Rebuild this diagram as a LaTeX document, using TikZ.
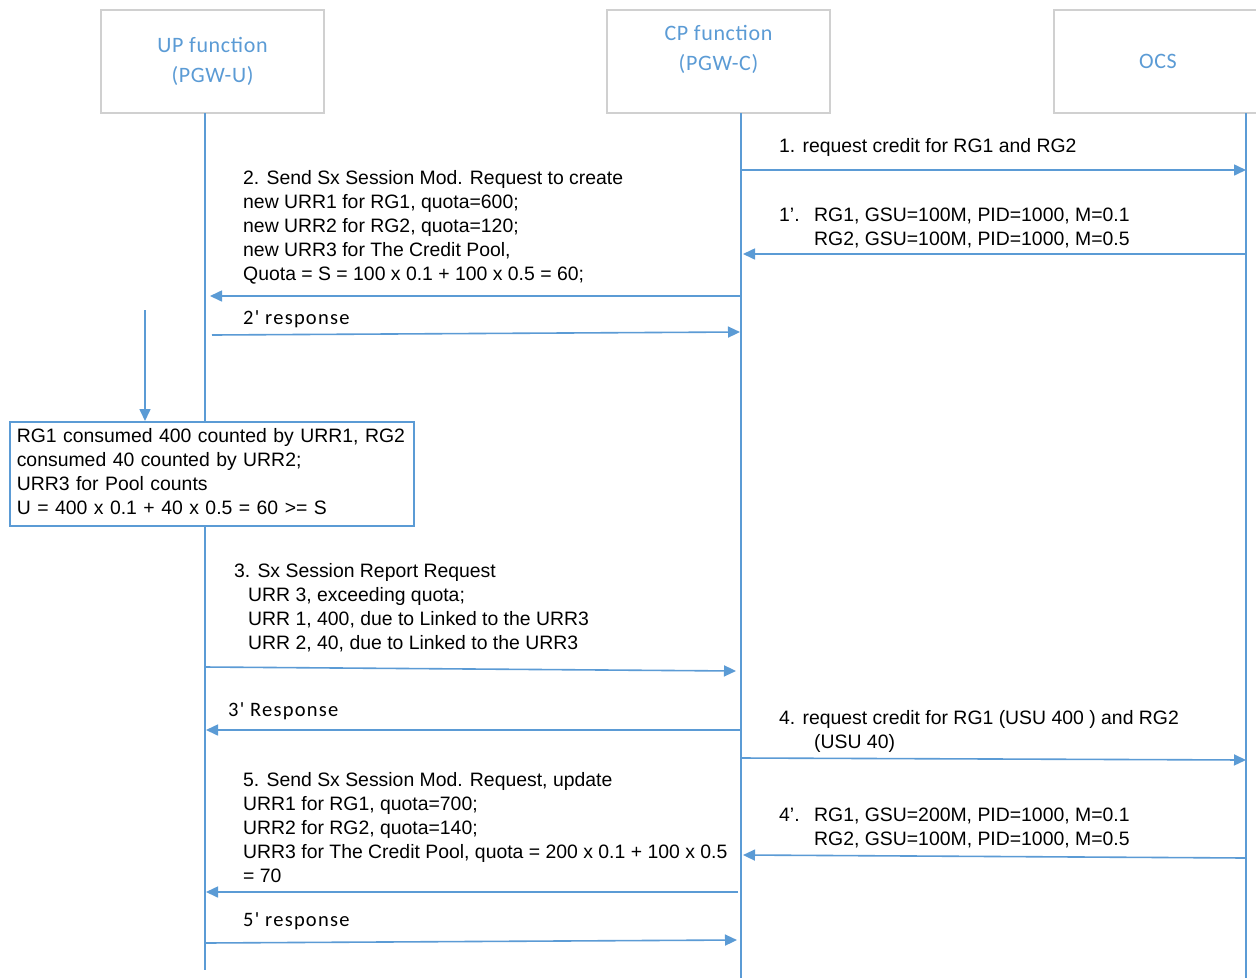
\documentclass[tikz,border=0pt]{standalone}
\usepackage{fontspec}
\setmainfont{Liberation Sans}
\newfontfamily\carlito{Carlito}
\newfontfamily\carlitosp{Carlito}[LetterSpace=6]
\newfontfamily\carlitohd{Carlito}[LetterSpace=3]
\usetikzlibrary{arrows.meta}
\definecolor{lblue}{HTML}{5B9BD5}
\definecolor{lgray}{HTML}{D0D0D0}
\begin{document}
\begin{tikzpicture}[x=1pt,y=-1pt,
  hdr/.style={draw=lgray, line width=1.6pt, text=lblue, align=center, inner sep=0pt,
    minimum width=223pt, minimum height=103pt,
    font=\carlitohd\fontsize{22pt}{30pt}\selectfont},
  life/.style={draw=lblue, line width=1.6pt},
  msg/.style={draw=lblue, line width=1.6pt, -{Triangle[length=12pt,width=11pt]}},
  lbl/.style={anchor=north west, inner sep=0pt, align=left, text=black,
    font=\fontsize{19.4pt}{24pt}\selectfont},
  rlbl/.style={anchor=north west, inner sep=0pt, align=left, text=black,
    font=\carlitosp\fontsize{20.5pt}{24pt}\selectfont},
  notebox/.style={draw=lblue, line width=1.6pt, anchor=north west, align=left,
    text width=390pt, inner xsep=7pt, inner ysep=4pt, minimum width=404pt, minimum height=104pt,
    font=\fontsize{19.4pt}{24pt}\selectfont}]
\useasboundingbox (0,0) rectangle (1256,978);
\fill[white] (0,0) rectangle (1256,978);

% header boxes
\node[hdr] (up) at (212.5,61.5) {UP function\\(PGW-U)};
\node[hdr] (cp) at (718.5,61.5) {CP function\\(PGW-C)\\[-12pt]\strut};
\node[hdr, minimum width=208pt] (ocs) at (1158,61.5) {OCS};

% note
\node[notebox] (note) at (9,421) {\strut RG1 consumed 400 counted by URR1, RG2\\consumed 40 counted by URR2;\\URR3 for Pool counts\\U = 400 x 0.1 + 40 x 0.5 = 60 >= S\strut};

% lifelines
\coordinate (uptop) at (205,113);
\coordinate (upend) at (205,970);
\coordinate (cptop) at (741,113);
\coordinate (cpend) at (741,978);
\coordinate (ocstop) at (1246,113);
\coordinate (ocsend) at (1246,978);
\draw[life] (uptop) -- (uptop |- note.north);
\draw[life] (uptop |- note.south) -- (upend);
\draw[life] (cptop) -- (cpend);
\draw[life] (ocstop) -- (ocsend);

% message end points
\coordinate (c1) at (741,170);  \coordinate (o1) at (1246,170);
\coordinate (o2) at (1246,254); \coordinate (c2) at (743,254);
\coordinate (c3) at (741,296);  \coordinate (u3) at (210,296);
\coordinate (u4) at (212,335);  \coordinate (c4) at (740,332);
\coordinate (d1) at (145,310);
\coordinate (u5) at (205,667);  \coordinate (c5) at (736,671);
\coordinate (c6) at (741,730);  \coordinate (u6) at (206,730);
\coordinate (c7) at (741,758);  \coordinate (o7) at (1246,760);
\coordinate (o8) at (1246,858); \coordinate (c8) at (743,855);
\coordinate (c9) at (738,892);  \coordinate (u9) at (206,892);
\coordinate (u10) at (205,943); \coordinate (c10) at (737,940);

\draw[msg] (c1) -- (o1);
\draw[msg] (o2) -- (c2);
\draw[msg] (c3) -- (u3);
\draw[msg] (u4) -- (c4);
\draw[msg] (d1) -- (d1 |- note.north);
\draw[msg] (u5) -- (c5);
\draw[msg] (c6) -- (u6);
\draw[msg] (c7) -- (o7);
\draw[msg] (o8) -- (c8);
\draw[msg] (c9) -- (u9);
\draw[msg] (u10) -- (c10);

% labels
\node[lbl] (l1) at (779,135) {\strut 1. request credit for RG1 and RG2};
\node[lbl] (l1p) at (779,204) {\strut\makebox[35pt][l]{1’.}RG1, GSU=100M, PID=1000, M=0.1\\\hspace*{35pt}RG2, GSU=100M, PID=1000, M=0.5};
\node[lbl] (l2) at (243,167) {\strut 2. Send Sx Session Mod. Request to create\\new URR1 for RG1, quota=600;\\new URR2 for RG2, quota=120;\\new URR3 for The Credit Pool,\\Quota = S = 100 x 0.1 + 100 x 0.5 = 60;};
\node[rlbl] (l2p) at (243,307.6) {\strut 2' response};
\node[lbl] (l3) at (234,560) {\strut 3. Sx Session Report Request\\\hspace*{14pt}URR 3, exceeding quota;\\\hspace*{14pt}URR 1, 400, due to Linked to the URR3\\\hspace*{14pt}URR 2, 40, due to Linked to the URR3};
\node[rlbl] (l3p) at (228,699.6) {\strut 3' Response};
\node[lbl] (l4) at (779,707) {\strut 4. request credit for RG1 (USU 400 ) and RG2\\\hspace*{35pt}(USU 40)};
\node[lbl] (l4p) at (779,804) {\strut\makebox[35pt][l]{4’.}RG1, GSU=200M, PID=1000, M=0.1\\\hspace*{35pt}RG2, GSU=100M, PID=1000, M=0.5};
\node[lbl] (l5) at (243,769) {\strut 5. Send Sx Session Mod. Request, update\\URR1 for RG1, quota=700;\\URR2 for RG2, quota=140;\\URR3 for The Credit Pool, quota = 200 x 0.1 + 100 x 0.5\\= 70};
\node[rlbl] (l5p) at (243,909.6) {\strut 5' response};
\end{tikzpicture}
\end{document}
